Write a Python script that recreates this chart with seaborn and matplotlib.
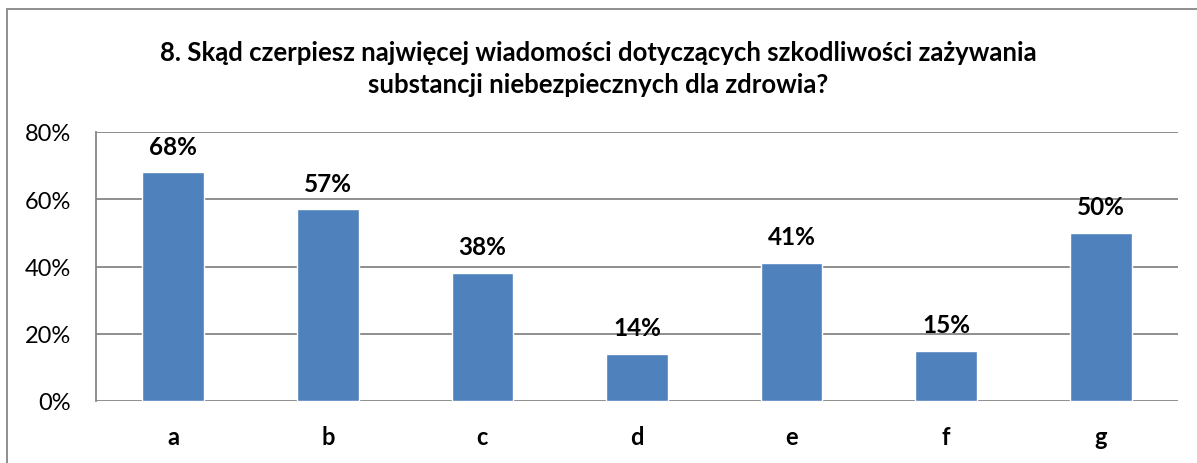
import matplotlib
matplotlib.use("Agg")
import matplotlib.pyplot as plt
from matplotlib.patches import Rectangle
from matplotlib.ticker import FuncFormatter
import seaborn as sns
import pandas as pd

categories = ["a", "b", "c", "d", "e", "f", "g"]
values = [0.68, 0.57, 0.38, 0.14, 0.41, 0.15, 0.50]
labels = ["68%", "57%", "38%", "14%", "41%", "15%", "50%"]
title = "8. Skąd czerpiesz najwięcej wiadomości dotyczących szkodliwości zażywania\nsubstancji niebezpiecznych dla zdrowia?"

sns.set_theme(style="white")
plt.rcParams["font.family"] = ["Lato", "DejaVu Sans"]

df = pd.DataFrame({"cat": categories, "val": values})

fig = plt.figure(figsize=(11.97, 4.64), dpi=100)
ax = fig.add_axes([96/1197, 1 - 402/464, (1178-96)/1197, (402-133)/464])

sns.barplot(data=df, x="cat", y="val", color="#4F81BD", saturation=1,
            width=0.4, ax=ax, zorder=3)

ax.set_ylim(0, 0.8)
ax.set_yticks([0, 0.2, 0.4, 0.6, 0.8])
ax.yaxis.set_major_formatter(FuncFormatter(lambda v, p: f"{v*100:.0f}%"))
ax.set_xlim(-0.5, len(categories) - 0.5)
ax.set_xlabel("")
ax.set_ylabel("")
ax.grid(axis="y", color="#868686", linewidth=1.3, zorder=0)
ax.set_axisbelow(True)

for s in ["top", "right", "bottom"]:
    ax.spines[s].set_visible(False)
ax.spines["left"].set_color("#868686")
ax.spines["left"].set_linewidth(1.3)

ax.tick_params(axis="y", length=0, pad=18, labelsize=17, labelcolor="#000000")
ax.tick_params(axis="x", length=0, pad=17, labelsize=17, labelcolor="#000000")
for t in ax.get_xticklabels():
    t.set_fontweight("bold")

for i, (v, lab) in enumerate(zip(values, labels)):
    ax.annotate(lab, (i, v), xytext=(0, 13.5), textcoords="offset points",
                ha="center", va="baseline", fontsize=17.5, fontweight="bold",
                color="#000000", zorder=5)

fig.text(0.5, 1 - 69/464, title, ha="center", va="center", fontsize=18.5,
         fontweight="bold", linespacing=1.4, color="#000000")

fig.patches.append(Rectangle((7/1197, -0.05), 1.1, 1 - 10/464 + 0.05,
                             transform=fig.transFigure, fill=False,
                             edgecolor="#868686", linewidth=1.3))

fig.savefig("out.png", dpi=100)
